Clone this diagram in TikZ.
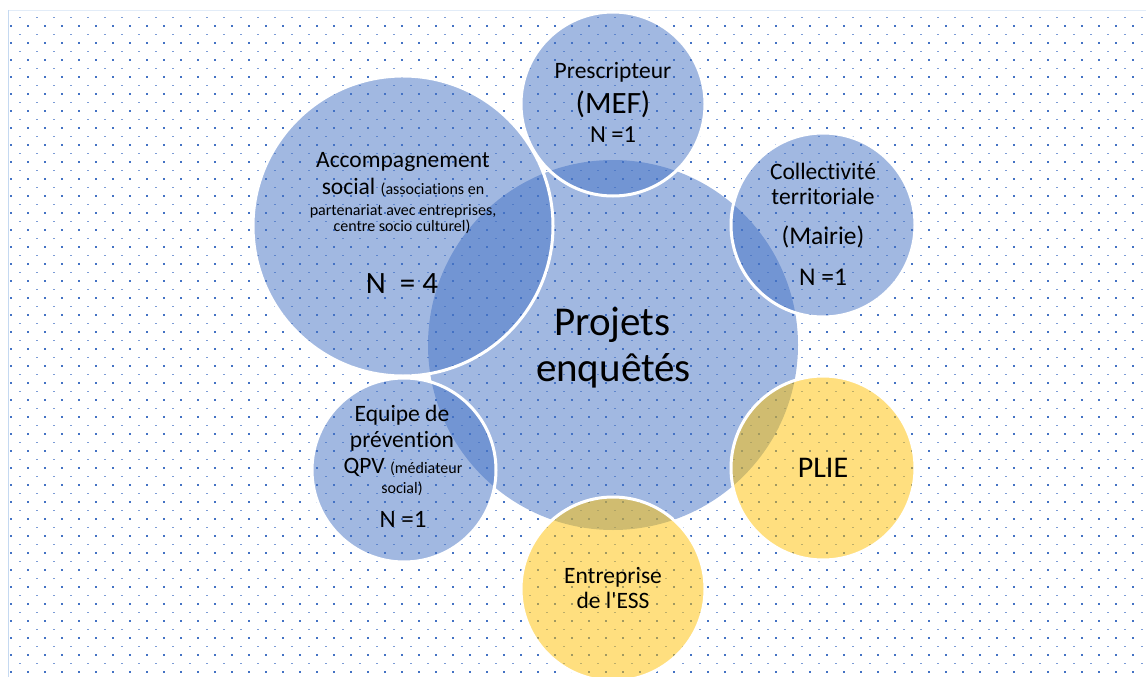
\documentclass[tikz,border=0pt]{standalone}
\usepackage{fontspec}
\setmainfont{Carlito}[Ligatures={NoCommon}]
\definecolor{DotBlue}{HTML}{4472C4}
\definecolor{DiscBlue}{HTML}{4472C4}
\definecolor{DiscGold}{HTML}{FFC000}
\definecolor{FrameBlue}{HTML}{C5D9F1}
\newcommand{\sz}[1]{\fontsize{#1}{#1}\selectfont}

\begin{document}
\begin{tikzpicture}[
    x=1pt,y=-1pt,
    disc/.style={circle,inner sep=0pt,fill opacity=0.5,draw=white,line width=3pt},
    bluedisc/.style={disc,fill=DiscBlue},
    golddisc/.style={disc,fill=DiscGold},
    txt/.style={anchor=base,inner sep=0pt,text=black}
  ]
    \useasboundingbox (0,0) rectangle (1146,677);
    % dotted background
    \begin{scope}
      \clip (9,10) rectangle (1146,677);
      \foreach \r in {0,...,39} {
        \foreach \c in {0,...,67} {
          \fill[DotBlue!70] (18.5+17*\c,16.7+17*\r) rectangle ++(2.2,1.3);
          \fill[DotBlue] (10+17*\c,24.8+17*\r) rectangle ++(2.2,2);
        }
      }
    \end{scope}
    \draw[FrameBlue!50,line width=0.8pt] (9,10.4) -- (1146,10.4);
    \draw[FrameBlue,line width=1.2pt] (8.6,10) -- (8.6,677);
    % circles
    \node[bluedisc,draw=none,minimum size=370pt] (main) at (613,345) {};
    \node[bluedisc,minimum size=300pt] (acc) at (403,226) {};
    \node[bluedisc,minimum size=184pt] (mef) at (613,104) {};
    \node[bluedisc,minimum size=184pt] (mairie) at (823,225) {};
    \node[bluedisc,minimum size=184pt] (qpv) at (404,470) {};
    \node[golddisc,minimum size=184pt] (plie) at (823,468) {};
    \node[golddisc,minimum size=184pt] (ess) at (613,589) {};
    % texts
    \node[txt,font=\sz{41}] (main-a) at (612.5,335) {Projets};
    \node[txt,font=\sz{41}] (main-b) at (613.5,381) {enquêtés};
    \node[txt,font=\sz{23.5}] (mef-a) at (613,78) {Prescripteur};
    \node[txt,font=\sz{31}] (mef-b) at (613,113) {(MEF)};
    \node[txt,font=\sz{24.5}] (mef-c) at (613,142) {N =1};
    \node[txt,font=\sz{23.5}] (acc-a) at (403,167) {Accompagnement};
    \node[txt,font=\sz{23.5}] (acc-b) at (403,194) {social {\sz{16}(associations en}};
    \node[txt,font=\sz{16}] (acc-c) at (403,215.7) {partenariat avec entreprises,};
    \node[txt,font=\sz{16}] (acc-d) at (402,231.7) {centre socio culturel)};
    \node[txt,font=\sz{31}] (acc-e) at (402,293) {N \ = 4};
    \node[txt,font=\sz{23.5}] (mairie-a) at (823,179) {Collectivité};
    \node[txt,font=\sz{23.5}] (mairie-b) at (823,204) {territoriale};
    \node[txt,font=\sz{25.5}] (mairie-c) at (823,244) {(Mairie)};
    \node[txt,font=\sz{25.5}] (mairie-d) at (823,285) {N =1};
    \node[txt,font=\sz{23.5}] (qpv-a) at (402,421.7) {Equipe de};
    \node[txt,font=\sz{23.5}] (qpv-b) at (402,447) {prévention};
    \node[txt,font=\sz{23.5}] (qpv-c) at (403,473) {QPV {\sz{16}(médiateur}};
    \node[txt,font=\sz{16}] (qpv-d) at (402,493) {social)};
    \node[txt,font=\sz{25}] (qpv-e) at (403,527) {N =1};
    \node[txt,font=\sz{30}] (plie-a) at (823,477) {PLIE};
    \node[txt,font=\sz{23.5}] (ess-a) at (613,583) {Entreprise};
    \node[txt,font=\sz{23.5}] (ess-b) at (613,608) {de l\textquotesingle ESS};
  \end{tikzpicture}
\end{document}
